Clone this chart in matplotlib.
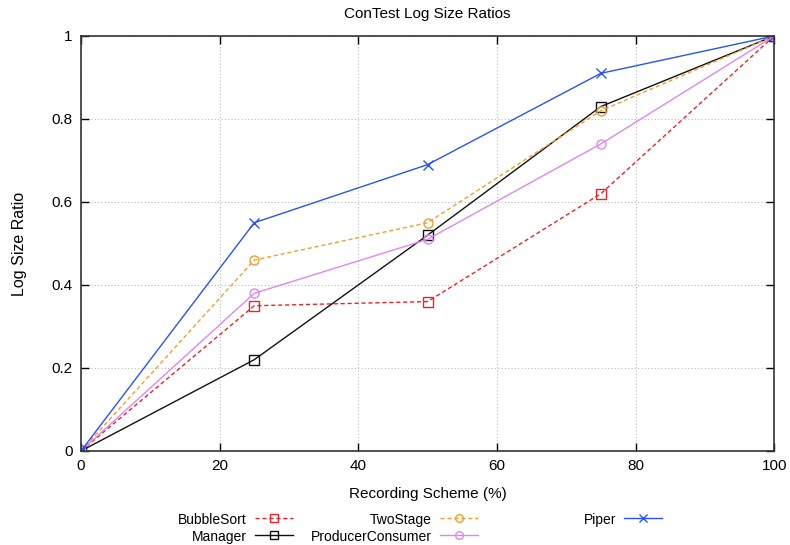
import numpy as np
import matplotlib.pyplot as plt
from matplotlib.lines import Line2D

plt.rcParams['font.family'] = ['Liberation Sans', 'DejaVu Sans']

# recording scheme percentages and log size ratios per benchmark
scheme = [0, 25, 50, 75, 100]
bubble_sort = [0, 0.35, 0.36, 0.62, 1]
manager = [0, 0.22, 0.52, 0.83, 1]
two_stage = [0, 0.46, 0.55, 0.82, 1]
producer_consumer = [0, 0.38, 0.51, 0.74, 1]
piper = [0, 0.55, 0.69, 0.91, 1]

names = ['BubbleSort', 'Manager', 'TwoStage', 'ProducerConsumer', 'Piper']
series = [bubble_sort, manager, two_stage, producer_consumer, piper]

dash = (0, (3, 2))
styles = [
    dict(color='#e8242a', ls=dash, marker='s', mfc='none'),
    dict(color='#111111', ls='-', marker='s', mfc='none'),
    dict(color='#f0a030', ls=dash, marker='o', mfc='none'),
    dict(color='#dd88ee', ls='-', marker='o', mfc='none'),
    dict(color='#2a52f5', ls='-', marker='x'),
]

fig = plt.figure(figsize=(7.9, 5.45), dpi=100)
ax = fig.add_axes([0.1025, 0.1725, 0.8775, 0.7615])

for name, vals, st in zip(names, series, styles):
    ax.plot(scheme, vals, lw=1, ms=6.5, mew=1, label=name, **st)

ax.set_xlim(0, 100)
ax.set_ylim(0, 1)
ax.set_xticks(np.arange(0, 101, 20))
ax.set_yticks(np.arange(0, 1.01, 0.2))
ax.set_yticklabels(['0', '0.2', '0.4', '0.6', '0.8', '1'])
ax.tick_params(direction='in', top=True, right=True, length=6, width=1,
               labelsize=11, pad=6)
ax.grid(True, color='#bbbbbb', ls=(0, (1, 2)), lw=0.8)
for s in ax.spines.values():
    s.set_linewidth(1.2)
    s.set_color('#333333')

ax.set_title('ConTest Log Size Ratios', fontsize=11, pad=13)
ax.set_xlabel('Recording Scheme (%)', fontsize=11, labelpad=10)
ax.set_ylabel('Log Size Ratio', fontsize=11.5, labelpad=18)

# gnuplot-style key below the plot: label right-aligned, sample to its right
col_x = [0.3127, 0.5468, 0.7797]
row_y = [0.0495, 0.0183]
for i, (name, st) in enumerate(zip(names, styles)):
    x = col_x[i // 2]
    y = row_y[i % 2]
    fig.text(x, y, name, ha='right', va='center_baseline', fontsize=10)
    x0, x1 = x + 8 / 790, x + 46 / 790
    fig.add_artist(Line2D([x0, x1], [y, y], transform=fig.transFigure,
                          color=st['color'], ls=st['ls'], lw=1))
    fig.add_artist(Line2D([(x0 + x1) / 2], [y], transform=fig.transFigure,
                          color=st['color'], marker=st['marker'],
                          mfc=st.get('mfc', st['color']), ms=5.5, mew=1, ls='none'))

fig.savefig('out.png', dpi=100)
